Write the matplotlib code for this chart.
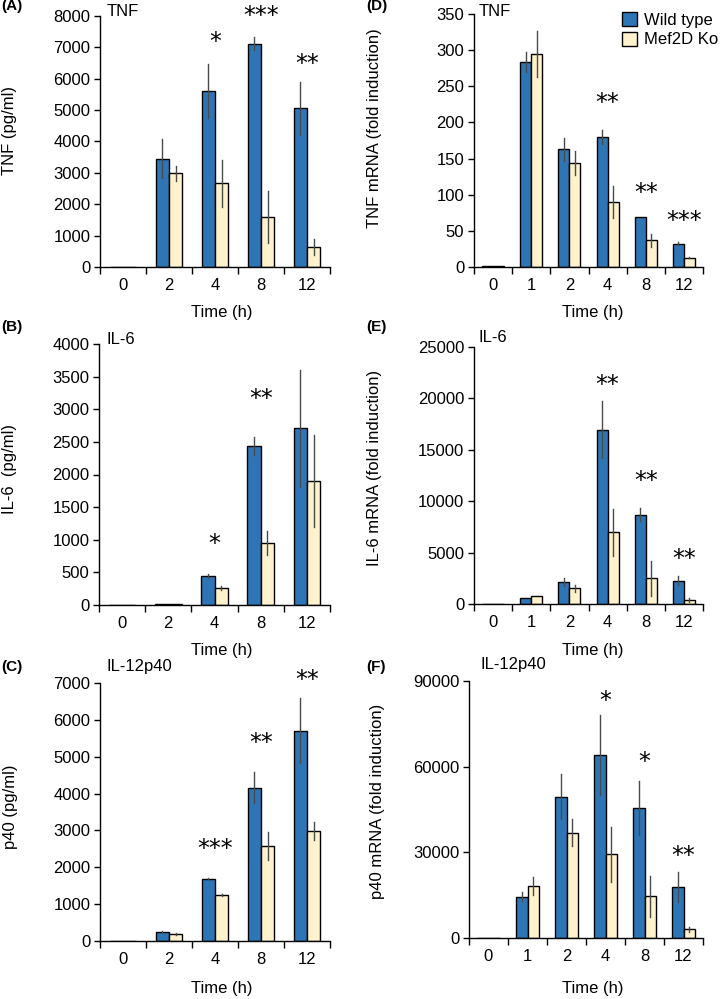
import matplotlib
matplotlib.use("Agg")
import matplotlib.pyplot as plt
import matplotlib.transforms as mtransforms
import numpy as np

plt.rcParams['font.family'] = ['Liberation Sans', 'DejaVu Sans']

# ---------------- data ----------------
times_prot = ['0', '2', '4', '8', '12']
times_mrna = ['0', '1', '2', '4', '8', '12']

# (A) TNF protein (pg/ml)
tnf_wt = [10, 3450, 5600, 7110, 5050]
tnf_wt_err = [0, 620, 850, 200, 850]
tnf_ko = [10, 2980, 2660, 1600, 636]
tnf_ko_err = [0, 240, 750, 830, 265]
tnf_stars = ['', '', '*', '***', '**']

# (B) IL-6 protein (pg/ml)
il6_wt = [0, 20, 444, 2437, 2708]
il6_wt_err = [0, 0, 30, 145, 900]
il6_ko = [0, 15, 260, 955, 1900]
il6_ko_err = [0, 0, 25, 185, 700]
il6_stars = ['', '', '*', '**', '']

# (C) p40 protein (pg/ml)
p40_wt = [10, 245, 1695, 4160, 5710]
p40_wt_err = [0, 30, 20, 420, 880]
p40_ko = [0, 190, 1240, 2585, 2975]
p40_ko_err = [0, 20, 30, 380, 245]
p40_stars = ['', '', '***', '**', '**']

# (D) TNF mRNA (fold induction)
tnfm_wt = [1, 284, 163, 180, 69, 32]
tnfm_wt_err = [0, 14, 16, 10, 0, 2]
tnfm_ko = [1, 295, 144, 90, 37, 13]
tnfm_ko_err = [0, 32, 17, 22, 9, 1]
tnfm_stars = ['', '', '', '**', '**', '***']

# (E) IL-6 mRNA (fold induction)
il6m_wt = [30, 550, 2140, 16970, 8680, 2270]
il6m_wt_err = [0, 0, 350, 2750, 650, 450]
il6m_ko = [20, 745, 1520, 6960, 2490, 390]
il6m_ko_err = [0, 0, 320, 2270, 1720, 160]
il6m_stars = ['', '', '', '**', '**', '**']

# (F) p40 mRNA (fold induction)
p40m_wt = [100, 14480, 49500, 63970, 45640, 17860]
p40m_wt_err = [0, 1500, 7800, 14000, 9450, 5140]
p40m_ko = [50, 18210, 36890, 29300, 14590, 3035]
p40m_ko_err = [0, 3030, 4670, 9700, 7120, 930]
p40m_stars = ['', '', '', '*', '*', '**']

series_labels = ['Wild type', 'Mef2D Ko']

# ---------------- style ----------------
BLUE = '#2E75B6'
YELLOW = '#FFF2CC'
ERRC = '#4a4a4a'
W, H = 720, 999

fig = plt.figure(figsize=(7.2, 9.99), dpi=100)


def fx(x):
    return x / W


def fy(y):
    return 1 - y / H


def make_ax(l, t, r, b):
    return fig.add_axes([fx(l), fy(b), fx(r) - fx(l), fy(t) - fy(b)])


def panel(box, cats, wt, wt_err, ko, ko_err, stars, star_y, ymax, yticks,
          ylabel, ylab_xy, title, title_xy, plabel, plabel_xy, time_xy, bw):
    ax = make_ax(*box)
    x = np.arange(len(cats))
    b1 = ax.bar(x - bw / 2, wt, bw, color=BLUE, edgecolor='black', linewidth=1.0,
                label=series_labels[0], zorder=2)
    b2 = ax.bar(x + bw / 2, ko, bw, color=YELLOW, edgecolor='black', linewidth=1.0,
                label=series_labels[1], zorder=2)
    for xi, v, e in zip(x - bw / 2, wt, wt_err):
        if e > 0:
            ax.plot([xi, xi], [v - e, v + e], color=ERRC, lw=1.0, zorder=3)
    for xi, v, e in zip(x + bw / 2, ko, ko_err):
        if e > 0:
            ax.plot([xi, xi], [v - e, v + e], color=ERRC, lw=1.0, zorder=3)
    for xi, s, sy in zip(x, stars, star_y):
        if s:
            ax.text(xi, sy, s, ha='center', va='center', fontsize=17,
                    family='DejaVu Sans', clip_on=False)
    ax.set_xlim(-0.5, len(cats) - 0.5)
    ax.set_ylim(0, ymax)
    ax.set_yticks(yticks)
    ax.set_yticklabels([str(t) for t in yticks])
    ax.set_xticks(x)
    ax.set_xticklabels(cats)
    ax.set_xticks(np.arange(len(cats) + 1) - 0.5, minor=True)
    ax.tick_params(axis='x', which='major', length=0, labelsize=12, pad=8)
    ax.tick_params(axis='x', which='minor', length=5, width=1, direction='out')
    ax.tick_params(axis='y', length=4, width=1, labelsize=12, pad=3)
    for s in ['top', 'right']:
        ax.spines[s].set_visible(False)
    for s in ['left', 'bottom']:
        ax.spines[s].set_linewidth(1.0)
    tr = mtransforms.blended_transform_factory(fig.transFigure, ax.transAxes)
    ax.set_ylabel(ylabel, fontsize=12)
    ax.yaxis.set_label_coords(fx(ylab_xy[0]), ylab_xy[1], transform=tr)
    fig.text(fx(title_xy[0]), fy(title_xy[1]), title, fontsize=12, ha='left', va='center')
    fig.text(fx(plabel_xy[0]), fy(plabel_xy[1]), plabel, fontsize=11, fontweight='bold',
             ha='left', va='center')
    fig.text(fx(time_xy[0]), fy(time_xy[1]), 'Time (h)', fontsize=12, ha='center', va='center')
    return ax, (b1, b2)


panel((100, 15.7, 330, 267), times_prot, tnf_wt, tnf_wt_err, tnf_ko, tnf_ko_err,
      tnf_stars, [0, 0, 7150, 7980, 6450], 8000, list(range(0, 8001, 1000)),
      'TNF (pg/ml)', (17, 0.545), 'TNF', (107, 12), '(A)', (1, 6), (222, 313), 0.286)

panel((99, 344, 330, 605), times_prot, il6_wt, il6_wt_err, il6_ko, il6_ko_err,
      il6_stars, [0, 0, 940, 3150, 0], 4000, list(range(0, 4001, 500)),
      'IL-6  (pg/ml)', (17, 0.52), 'IL-6', (107, 339), '(B)', (1, 327), (222, 650), 0.286)

panel((100, 683, 330, 941), times_prot, p40_wt, p40_wt_err, p40_ko, p40_ko_err,
      p40_stars, [0, 0, 2490, 5370, 7070], 7000, list(range(0, 7001, 1000)),
      'p40 (pg/ml)', (18, 0.52), 'IL-12p40', (107, 667), '(C)', (1, 667), (222, 989), 0.286)

axD, bars = panel((474, 14, 703, 267), times_mrna, tnfm_wt, tnfm_wt_err, tnfm_ko, tnfm_ko_err,
                  tnfm_stars, [0, 0, 0, 227, 102, 63.5], 350, list(range(0, 351, 50)),
                  'TNF mRNA (fold induction)', (382, 0.55), 'TNF', (479, 12), '(D)', (366, 6),
                  (593, 313), 0.29)

panel((474, 347, 703, 604), times_mrna, il6m_wt, il6m_wt_err, il6m_ko, il6m_ko_err,
      il6m_stars, [0, 0, 0, 21300, 11950, 4400], 25000, list(range(0, 25001, 5000)),
      'IL-6 mRNA (fold induction)', (382, 0.53), 'IL-6', (478, 338), '(E)', (366, 327),
      (593, 650), 0.29)

panel((469, 681, 703, 938), times_mrna, p40m_wt, p40m_wt_err, p40m_ko, p40m_ko_err,
      p40m_stars, [0, 0, 0, 83000, 61500, 28800], 90000, [0, 30000, 60000, 90000],
      'p40 mRNA (fold induction)', (385, 0.53), 'IL-12p40', (480, 665), '(F)', (366, 667),
      (593, 989), 0.29)

fig.legend(handles=list(bars), labels=series_labels, loc='upper left',
           bbox_to_anchor=(fx(622), fy(12)), frameon=False, fontsize=12,
           handlelength=0.9, handleheight=0.9, handletextpad=0.4, labelspacing=0.25,
           borderaxespad=0, borderpad=0)

fig.savefig('out.png', dpi=100)
